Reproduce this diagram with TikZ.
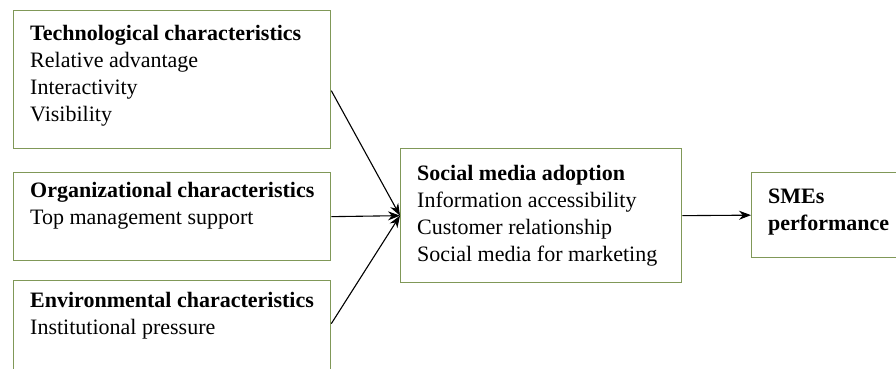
\documentclass[tikz,border=0pt]{standalone}
\usepackage{fontspec}
\setmainfont{Liberation Serif}
\usetikzlibrary{positioning}
\usetikzlibrary{arrows.meta}
\definecolor{boxgreen}{RGB}{128,152,88}
\tikzset{x=1pt, y=-1pt,
    box/.style={
        draw=boxgreen,
        line width=1.3pt,
        anchor=north west,
        inner sep=0pt},
    boxtext/.style={
        anchor=north west,
        align=left,
        inner sep=0pt,
        font=\fontsize{22}{27}\selectfont},
    every edge/.style={
        draw,
        -{Stealth[length=12pt,width=9pt]},
        line width=1.1pt}}

\begin{document}
\begin{tikzpicture}
        \useasboundingbox (0,0) rectangle (896,368);
        \node[box,minimum width=317pt,minimum height=138pt] (tech) at (13,10) {};
        \node[box,minimum width=317pt,minimum height=88pt] (org) at (13,172) {};
        \node[box,minimum width=317pt,minimum height=90pt] (env) at (13,280) {};
        \node[box,minimum width=281pt,minimum height=134pt] (adopt) at (400,148) {};
        \node[box,minimum width=150pt,minimum height=85pt] (perf) at (751,172) {};

        \node[boxtext] (techtxt) at ([xshift=17pt,yshift=-15pt]tech.north west)
            {\textbf{Technological characteristics}\\Relative advantage\\Interactivity\\Visibility};
        \node[boxtext] (orgtxt) at ([xshift=17pt,yshift=-10pt]org.north west)
            {\textbf{Organizational characteristics}\\Top management support};
        \node[boxtext] (envtxt) at ([xshift=17pt,yshift=-12pt]env.north west)
            {\textbf{Environmental characteristics}\\Institutional pressure};
        \node[boxtext] (adopttxt) at ([xshift=17pt,yshift=-17pt]adopt.north west)
            {\textbf{Social media adoption}\\Information accessibility\\Customer relationship\\Social media for marketing};
        \node[boxtext] (perftxt) at ([xshift=17pt,yshift=-17pt]perf.north west)
            {\textbf{SMEs}\\\textbf{performance}};

        \draw ([yshift=-11pt]tech.east) edge (adopt.west);
        \draw (org.east) edge (adopt.west);
        \draw ([yshift=2pt]env.east) edge (adopt.west);
        \draw (adopt.east) edge (perf.west);
    \end{tikzpicture}
\end{document}
